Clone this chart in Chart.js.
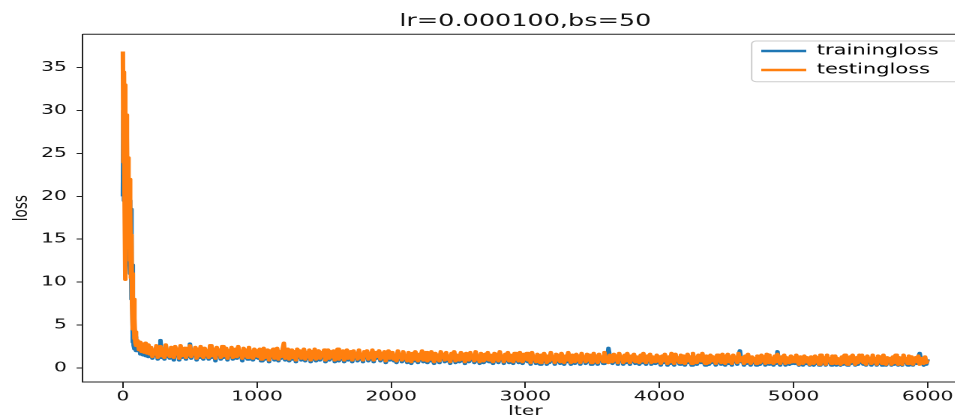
<!DOCTYPE html>
<html><head><meta charset="utf-8">
<script src="https://cdn.jsdelivr.net/npm/chart.js@4/dist/chart.umd.min.js"></script>
<style>
html,body{margin:0;padding:0;overflow:hidden;background:#fff;width:955px;height:418px;}
</style></head><body>
<canvas id="c" width="660" height="440" style="display:block;width:990px;height:440px"></canvas>
<script>
const titleText = 'lr=0.000100,bs=50';
const xTitle = 'Iter';
const yTitle = 'loss';
const seriesNames = ['trainingloss', 'testingloss'];
const xTicks = [0, 1000, 2000, 3000, 4000, 5000, 6000];
const yTicks = [0, 5, 10, 15, 20, 25, 30, 35];

const iters = [
0,4,8,12,16,20,24,28,32,36,40,44,48,52,56,60,64,68,72,76,80,84,88,92,96,100,
110,120,130,140,150,160,170,180,190,200,
210,220,230,240,250,260,270,280,290,300,
310,320,330,340,350,360,370,380,390,400,
410,420,430,440,450,460,470,480,490,500,
510,520,530,540,550,560,570,580,590,600,
610,620,630,640,650,660,670,680,690,700,
710,720,730,740,750,760,770,780,790,800,
810,820,830,840,850,860,870,880,890,900,
910,920,930,940,950,960,970,980,990,1000,
1010,1020,1030,1040,1050,1060,1070,1080,1090,1100,
1110,1120,1130,1140,1150,1160,1170,1180,1190,1200,
1210,1220,1230,1240,1250,1260,1270,1280,1290,1300,
1310,1320,1330,1340,1350,1360,1370,1380,1390,1400,
1410,1420,1430,1440,1450,1460,1470,1480,1490,1500,
1510,1520,1530,1540,1550,1560,1570,1580,1590,1600,
1610,1620,1630,1640,1650,1660,1670,1680,1690,1700,
1710,1720,1730,1740,1750,1760,1770,1780,1790,1800,
1810,1820,1830,1840,1850,1860,1870,1880,1890,1900,
1910,1920,1930,1940,1950,1960,1970,1980,1990,2000,
2010,2020,2030,2040,2050,2060,2070,2080,2090,2100,
2110,2120,2130,2140,2150,2160,2170,2180,2190,2200,
2210,2220,2230,2240,2250,2260,2270,2280,2290,2300,
2310,2320,2330,2340,2350,2360,2370,2380,2390,2400,
2410,2420,2430,2440,2450,2460,2470,2480,2490,2500,
2510,2520,2530,2540,2550,2560,2570,2580,2590,2600,
2610,2620,2630,2640,2650,2660,2670,2680,2690,2700,
2710,2720,2730,2740,2750,2760,2770,2780,2790,2800,
2810,2820,2830,2840,2850,2860,2870,2880,2890,2900,
2910,2920,2930,2940,2950,2960,2970,2980,2990,3000,
3010,3020,3030,3040,3050,3060,3070,3080,3090,3100,
3110,3120,3130,3140,3150,3160,3170,3180,3190,3200,
3210,3220,3230,3240,3250,3260,3270,3280,3290,3300,
3310,3320,3330,3340,3350,3360,3370,3380,3390,3400,
3410,3420,3430,3440,3450,3460,3470,3480,3490,3500,
3510,3520,3530,3540,3550,3560,3570,3580,3590,3600,
3610,3620,3630,3640,3650,3660,3670,3680,3690,3700,
3710,3720,3730,3740,3750,3760,3770,3780,3790,3800,
3810,3820,3830,3840,3850,3860,3870,3880,3890,3900,
3910,3920,3930,3940,3950,3960,3970,3980,3990,4000,
4010,4020,4030,4040,4050,4060,4070,4080,4090,4100,
4110,4120,4130,4140,4150,4160,4170,4180,4190,4200,
4210,4220,4230,4240,4250,4260,4270,4280,4290,4300,
4310,4320,4330,4340,4350,4360,4370,4380,4390,4400,
4410,4420,4430,4440,4450,4460,4470,4480,4490,4500,
4510,4520,4530,4540,4550,4560,4570,4580,4590,4600,
4610,4620,4630,4640,4650,4660,4670,4680,4690,4700,
4710,4720,4730,4740,4750,4760,4770,4780,4790,4800,
4810,4820,4830,4840,4850,4860,4870,4880,4890,4900,
4910,4920,4930,4940,4950,4960,4970,4980,4990,5000,
5010,5020,5030,5040,5050,5060,5070,5080,5090,5100,
5110,5120,5130,5140,5150,5160,5170,5180,5190,5200,
5210,5220,5230,5240,5250,5260,5270,5280,5290,5300,
5310,5320,5330,5340,5350,5360,5370,5380,5390,5400,
5410,5420,5430,5440,5450,5460,5470,5480,5490,5500,
5510,5520,5530,5540,5550,5560,5570,5580,5590,5600,
5610,5620,5630,5640,5650,5660,5670,5680,5690,5700,
5710,5720,5730,5740,5750,5760,5770,5780,5790,5800,
5810,5820,5830,5840,5850,5860,5870,5880,5890,5900,
5910,5920,5930,5940,5950,5960,5970,5980,5990,6000
];

const trainLoss = [
20.0,30.0,19.5,28.0,18.0,26.0,15.5,24.0,16.0,22.0,14.5,21.0,13.0,19.5,11.0,18.5,8.0,12.0,3.0,7.0,2.6,4.5,2.2,3.6,2.0,3.1,
2.0,2.9,1.6,2.7,1.5,2.5,1.4,2.6,1.3,2.4,
2.2,1.1,1.9,1.4,2.4,1.0,1.7,3.2,1.2,2.0,
1.0,2.5,1.3,1.8,1.1,2.2,1.5,0.9,2.3,1.4,
2.0,0.9,2.4,1.2,1.7,2.1,1.0,1.9,1.3,2.8,
1.1,1.8,1.4,2.2,0.9,2.0,1.2,2.3,1.5,1.0,
2.1,1.3,1.8,1.0,2.4,1.2,1.6,2.0,0.8,2.2,
1.4,1.9,1.0,2.3,1.2,1.7,2.1,0.9,1.8,1.3,
2.2,1.0,1.6,2.0,1.1,2.3,1.3,1.7,0.8,2.1,
1.2,1.9,1.0,2.2,1.4,1.7,0.9,2.0,1.2,1.8,
1.1,2.0,0.8,1.6,2.1,1.0,1.4,1.9,0.7,1.8,
1.2,2.0,0.9,1.5,2.1,0.8,1.7,1.1,1.9,2.3,
0.9,1.6,2.0,0.8,1.4,1.9,1.0,1.7,0.7,2.0,
1.2,1.8,0.9,1.5,2.0,0.8,1.6,1.1,1.9,0.7,
1.7,1.0,2.0,0.8,1.4,1.8,0.9,1.6,1.2,1.9,
0.7,1.5,1.9,0.9,1.7,1.1,1.8,0.7,1.4,2.0,
0.8,1.6,1.0,1.8,0.7,1.5,1.9,0.9,1.3,1.7,
0.7,1.8,1.1,1.5,0.8,1.9,1.0,1.4,0.7,1.7,
1.2,1.8,0.8,1.5,1.0,1.9,0.7,1.6,1.1,1.4,
1.8,0.8,1.5,1.0,1.7,0.6,1.4,1.8,0.9,1.6,
1.6,0.8,1.3,0.6,1.8,1.0,1.4,0.7,1.7,0.9,
1.2,0.6,1.6,1.0,0.5,1.5,0.8,1.7,1.1,0.6,
1.4,0.9,1.8,0.7,1.2,1.6,0.6,1.3,0.8,1.7,
1.0,0.5,1.5,0.8,1.3,0.6,1.7,1.0,1.4,0.7,
1.6,0.8,1.2,0.5,1.5,0.9,1.7,0.6,1.3,1.0,
0.7,1.6,0.8,1.4,0.5,1.5,1.0,0.7,1.6,0.9,
1.3,0.6,1.7,0.8,1.2,0.5,1.5,1.0,0.6,1.4,
0.8,1.6,0.7,1.3,0.9,0.5,1.5,0.8,1.4,0.6,
1.7,0.9,1.2,0.5,1.4,0.8,1.6,0.6,1.3,1.0,
0.5,1.5,0.8,1.3,0.6,1.6,0.9,0.5,1.4,0.8,
1.5,0.7,1.2,0.4,1.6,0.8,1.1,0.5,1.4,0.9,
0.4,1.3,0.7,1.5,1.0,0.4,1.2,0.6,1.6,0.8,
1.1,0.4,1.4,0.7,1.3,0.5,1.5,0.9,0.4,1.2,
0.7,1.6,0.8,0.4,1.3,1.0,0.5,1.4,0.7,1.2,
0.4,1.5,0.8,1.1,0.5,1.4,0.7,1.3,0.4,1.0,
1.5,0.6,1.2,0.4,1.4,0.8,1.1,0.5,1.6,0.7,
1.0,2.3,1.3,0.8,0.5,1.4,0.7,1.2,0.4,1.5,
0.8,1.1,0.4,1.3,0.6,1.5,0.9,0.4,1.2,0.7,
1.4,0.5,1.1,0.8,0.4,1.3,0.6,1.5,0.8,0.4,
1.2,0.7,1.4,0.4,1.1,0.8,0.5,1.3,0.6,1.1,
0.3,1.2,0.6,1.4,0.9,0.3,1.1,0.5,1.5,0.7,
0.3,1.4,0.7,1.0,0.4,1.3,0.6,1.2,0.3,0.9,
1.4,0.6,1.1,0.3,1.5,0.7,1.0,0.4,1.3,0.8,
0.6,1.5,0.7,0.3,1.2,0.9,0.4,1.3,0.6,1.1,
1.0,0.3,1.3,0.6,1.2,0.4,1.4,0.8,0.3,1.1,
1.4,0.5,1.1,0.3,1.3,0.7,1.0,0.4,1.5,2.0,
0.7,1.0,0.3,1.2,0.5,1.4,0.8,0.3,1.1,0.6,
0.9,0.3,1.2,0.7,0.4,1.3,0.6,1.1,0.3,1.4,
1.3,0.4,1.0,0.7,0.3,1.2,0.5,1.9,0.7,0.3,
1.1,0.6,1.3,0.3,1.0,0.7,0.4,1.2,0.5,1.0,
0.5,1.3,0.6,0.3,1.1,0.8,0.3,1.2,0.5,1.0,
0.8,0.3,1.1,0.6,0.3,1.2,0.5,1.0,0.3,1.3,
1.3,0.5,1.0,0.3,1.3,0.6,0.9,0.3,1.2,0.7,
1.2,0.3,0.9,0.6,0.3,1.1,0.4,1.3,0.6,0.3,
0.3,1.1,0.5,1.3,0.8,0.3,1.0,0.4,1.3,0.6,
1.3,0.4,1.0,0.3,1.2,0.6,0.9,0.3,1.3,0.5,
0.9,0.3,1.2,0.5,1.1,0.3,1.3,0.7,0.3,1.0,
0.6,0.9,0.3,1.1,0.4,1.3,0.7,0.3,1.0,0.5,
0.3,1.3,0.6,0.9,0.3,1.2,0.5,1.1,0.3,0.8,
1.0,0.5,1.2,1.7,0.9,0.6,0.3,1.1,0.4,1.0
];

const testLoss = [
36.9,24.0,34.5,20.5,33.0,10.3,29.5,17.0,27.0,16.0,24.5,14.0,22.0,12.5,19.0,10.5,15.5,7.5,11.0,4.5,8.0,3.4,5.8,3.0,4.2,2.6,
3.2,2.1,3.0,1.9,2.8,1.8,2.9,1.7,2.7,1.6,
2.4,1.3,2.1,1.6,2.6,1.2,1.9,2.5,1.4,2.2,
1.2,2.7,1.5,2.0,1.3,2.4,1.7,1.2,2.5,1.6,
2.2,1.1,2.6,1.4,1.9,2.3,1.2,2.1,1.5,2.6,
1.3,2.0,1.6,2.4,1.1,2.2,1.4,2.5,1.7,1.2,
2.3,1.5,2.0,1.2,2.6,1.4,1.8,2.2,1.1,2.4,
1.6,2.1,1.2,2.5,1.4,1.9,2.3,1.1,2.0,1.5,
2.4,1.2,1.8,2.2,1.3,2.5,1.5,1.9,1.1,2.3,
1.4,2.1,1.2,2.4,1.6,1.9,1.1,2.2,1.4,2.0,
1.3,2.2,1.0,1.8,2.3,1.2,1.6,2.1,0.9,2.0,
1.4,2.2,1.1,1.7,2.3,1.0,1.9,1.3,2.1,2.9,
1.1,1.8,2.2,1.0,1.6,2.1,1.2,1.9,0.9,2.2,
1.4,2.0,1.1,1.7,2.2,1.0,1.8,1.3,2.1,0.9,
1.9,1.2,2.2,1.0,1.6,2.0,1.1,1.8,1.4,2.1,
0.9,1.7,2.1,1.1,1.9,1.3,2.0,0.9,1.6,2.2,
1.0,1.8,1.2,2.0,0.9,1.7,2.1,1.1,1.5,1.9,
0.9,2.0,1.3,1.7,1.0,2.1,1.2,1.6,0.9,1.9,
1.4,2.0,1.0,1.7,1.2,2.1,0.9,1.8,1.3,1.6,
2.0,1.0,1.7,1.2,1.9,0.8,1.6,2.0,1.1,1.8,
1.8,1.0,1.5,0.8,2.0,1.2,1.6,0.9,1.9,1.1,
1.4,0.8,1.8,1.2,0.7,1.7,1.0,1.9,1.3,0.8,
1.6,1.1,2.0,0.9,1.4,1.8,0.8,1.5,1.0,1.9,
1.2,0.7,1.7,1.0,1.5,0.8,1.9,1.2,1.6,0.9,
1.8,1.0,1.4,0.7,1.7,1.1,1.9,0.8,1.5,1.2,
0.9,1.8,1.0,1.6,0.7,1.7,1.2,0.9,1.8,1.1,
1.5,0.8,1.9,1.0,1.4,0.7,1.7,1.2,0.8,1.6,
1.0,1.8,0.9,1.5,1.1,0.7,1.7,1.0,1.6,0.8,
1.9,1.1,1.4,0.7,1.6,1.0,1.8,0.8,1.5,1.2,
0.7,1.7,1.0,1.5,0.8,1.8,1.1,0.7,1.6,1.0,
1.7,0.9,1.4,0.6,1.8,1.0,1.3,0.7,1.6,1.1,
0.6,1.5,0.9,1.7,1.2,0.6,1.4,0.8,1.8,1.0,
1.3,0.6,1.6,0.9,1.5,0.7,1.7,1.1,0.6,1.4,
0.9,1.8,1.0,0.6,1.5,1.2,0.7,1.6,0.9,1.4,
0.6,1.7,1.0,1.3,0.7,1.6,0.9,1.5,0.6,1.2,
1.7,0.8,1.4,0.6,1.6,1.0,1.3,0.7,1.8,0.9,
1.2,0.6,1.5,1.0,0.7,1.6,0.9,1.4,0.6,1.7,
1.0,1.3,0.6,1.5,0.8,1.7,1.1,0.6,1.4,0.9,
1.6,0.7,1.3,1.0,0.6,1.5,0.8,1.7,1.0,0.6,
1.4,0.9,1.6,0.6,1.3,1.0,0.7,1.5,0.8,1.3,
0.5,1.4,0.8,1.6,1.1,0.5,1.3,0.7,1.7,0.9,
0.5,1.6,0.9,1.2,0.6,1.5,0.8,1.4,0.5,1.1,
1.6,0.8,1.3,0.5,1.7,0.9,1.2,0.6,1.5,1.0,
0.8,1.7,0.9,0.5,1.4,1.1,0.6,1.5,0.8,1.3,
1.2,0.5,1.5,0.8,1.4,0.6,1.6,1.0,0.5,1.3,
1.6,0.7,1.3,0.5,1.5,0.9,1.2,0.6,1.7,0.8,
0.9,1.2,0.5,1.4,0.7,1.6,1.0,0.5,1.3,0.8,
1.1,0.5,1.4,0.9,0.6,1.5,0.8,1.3,0.5,1.6,
1.5,0.6,1.2,0.9,0.5,1.4,0.7,1.6,0.9,0.5,
1.3,0.8,1.5,0.5,1.2,0.9,0.6,1.4,0.7,1.2,
0.7,1.5,0.8,0.4,1.3,1.0,0.5,1.4,0.7,1.2,
1.0,0.4,1.3,0.8,0.5,1.4,0.7,1.2,0.4,1.5,
1.5,0.7,1.2,0.4,1.5,0.8,1.1,0.5,1.4,0.9,
1.4,0.5,1.1,0.8,0.4,1.3,0.6,1.5,0.8,0.4,
0.4,1.3,0.7,1.5,1.0,0.4,1.2,0.6,1.5,0.8,
1.5,0.6,1.2,0.4,1.4,0.8,1.1,0.5,1.5,0.7,
1.1,0.4,1.4,0.7,1.3,0.5,1.5,0.9,0.4,1.2,
0.8,1.1,0.4,1.3,0.6,1.5,0.9,0.4,1.2,0.7,
0.4,1.5,0.8,1.1,0.5,1.4,0.7,1.3,0.4,1.0,
1.2,0.7,1.4,0.4,1.1,0.8,0.5,1.3,0.6,0.9
];

Chart.defaults.font.family = "'DejaVu Sans', sans-serif";
Chart.defaults.color = '#111';

const LEG_LEFT = 502.5, LEG_TOP = 39;

const framePlugin = {
  id: 'framePlugin',
  afterLayout(chart) {
    const lg = chart.legend;
    if (!lg) return;
    lg.left = LEG_LEFT; lg.top = LEG_TOP;
    lg.width = 150; lg.right = LEG_LEFT + 150;
    lg.bottom = chart.chartArea.bottom; lg.height = lg.bottom - LEG_TOP;
  },
  afterDraw(chart) {
    const {ctx, chartArea: a} = chart;
    ctx.save();
    ctx.strokeStyle = '#222';
    ctx.lineWidth = 1;
    ctx.beginPath();
    ctx.moveTo(a.left, a.top);
    ctx.lineTo(a.right, a.top);
    ctx.lineTo(a.right, a.bottom);
    ctx.stroke();
    const x = 501.1, y = 41, w = 152, h = 40.7, r = 3;
    ctx.strokeStyle = '#cccccc';
    ctx.beginPath();
    ctx.moveTo(x + r, y);
    ctx.lineTo(x + w - r, y);
    ctx.arcTo(x + w, y, x + w, y + r, r);
    ctx.lineTo(x + w, y + h - r);
    ctx.arcTo(x + w, y + h, x + w - r, y + h, r);
    ctx.lineTo(x + r, y + h);
    ctx.arcTo(x, y + h, x, y + h - r, r);
    ctx.lineTo(x, y + r);
    ctx.arcTo(x, y, x + r, y, r);
    ctx.stroke();
    ctx.restore();
  }
};

const tickFont = {family: "'DejaVu Sans', sans-serif", size: 13.5};

new Chart(document.getElementById('c'), {
  type: 'line',
  data: {
    datasets: [
      {label: seriesNames[0], data: iters.map((x, i) => ({x: x, y: trainLoss[i]})),
       borderColor: '#1f77b4', backgroundColor: '#1f77b4', borderWidth: 3, pointRadius: 0,
       tension: 0, fill: false, borderJoinStyle: 'round', order: 1},
      {label: seriesNames[1], data: iters.map((x, i) => ({x: x, y: testLoss[i]})),
       borderColor: '#ff7f0e', backgroundColor: '#ff7f0e', borderWidth: 3, pointRadius: 0,
       tension: 0, fill: false, borderJoinStyle: 'round', order: 0}
    ]
  },
  options: {
    responsive: false,
    devicePixelRatio: 2,
    animation: false,
    events: [],
    layout: {padding: {left: 0, right: 14.7, top: 0, bottom: 0}},
    plugins: {
      tooltip: {enabled: false},
      title: {display: true, text: titleText, fullSize: false, color: '#111',
              font: {family: "'DejaVu Sans', sans-serif", size: 17, weight: 'normal'},
              padding: {top: 11.5, bottom: 2.4}},
      legend: {
        display: true, position: 'chartArea', align: 'start',
        labels: {
          usePointStyle: true, pointStyle: 'line', pointStyleWidth: 30, padding: 5, color: '#111',
          font: {family: "'DejaVu Sans', sans-serif", size: 14},
          generateLabels: (chart) => chart.data.datasets.map((ds, i) => ({
            text: ds.label, fillStyle: ds.borderColor, strokeStyle: ds.borderColor,
            lineWidth: 2.5, pointStyle: 'line', hidden: false, datasetIndex: i, lineCap: 'butt'
          }))
        }
      }
    },
    scales: {
      x: {
        type: 'linear', min: -300, max: 6300,
        afterBuildTicks: (ax) => { ax.ticks = xTicks.map(v => ({value: v})); },
        afterFit: (ax) => { ax.height = 58; },
        grid: {display: true, drawOnChartArea: false, drawTicks: true, tickLength: 6, color: '#222', lineWidth: 1},
        border: {display: true, color: '#222', width: 1},
        ticks: {autoSkip: false, maxRotation: 0, minRotation: 0, padding: 1, color: '#111', font: tickFont,
                callback: (v) => String(v)},
        title: {display: true, text: xTitle, color: '#111', font: tickFont, padding: {top: 0, bottom: 20.4}}
      },
      y: {
        type: 'linear', min: -1.65, max: 38.9,
        afterBuildTicks: (ax) => { ax.ticks = yTicks.map(v => ({value: v})); },
        afterFit: (ax) => { ax.width = 55.1; },
        grid: {display: true, drawOnChartArea: false, drawTicks: true, tickLength: 4, color: '#222', lineWidth: 1},
        border: {display: true, color: '#222', width: 1},
        ticks: {autoSkip: false, padding: 6.5, color: '#111', font: tickFont, callback: (v) => String(v)},
        title: {display: true, text: yTitle, color: '#111', font: tickFont, padding: {top: 6.6, bottom: 0}}
      }
    }
  },
  plugins: [framePlugin]
});
</script>
</body></html>
